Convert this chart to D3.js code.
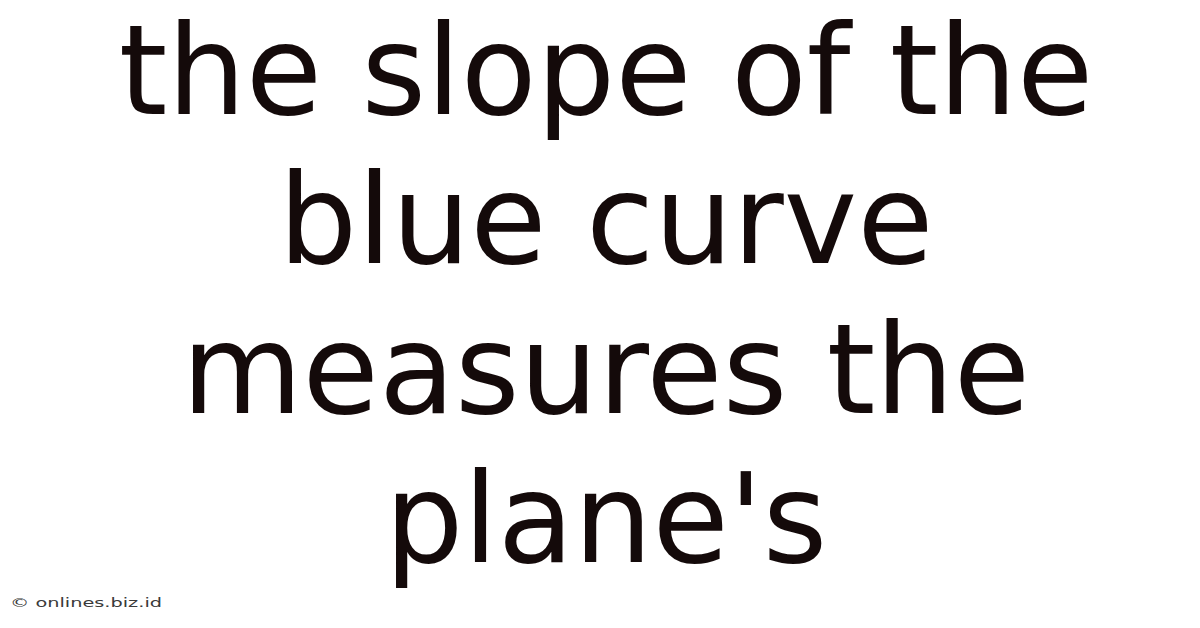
<!DOCTYPE html>
<html>
<head>
<meta charset="utf-8">
<script src="https://cdn.jsdelivr.net/npm/d3@7"></script>
<style>
html,body{margin:0;padding:0;background:#fff;}
svg{display:block;}
</style>
</head>
<body>
<svg id="c" width="1200" height="628"></svg>
<script>
const lines = ["the slope of the", "blue curve", "measures the", "plane's"];
const lineIndex = [0, 1, 2, 3];
const watermark = ["© onlines.biz.id"];

const svg = d3.select("#c");
svg.append("rect").attr("width", 1200).attr("height", 628).attr("fill", "#ffffff");

const y = d3.scaleLinear().domain([0, 3]).range([114, 562]);

svg.selectAll("text.line")
  .data(lines)
  .enter()
  .append("text")
  .attr("class", "line")
  .attr("x", 606)
  .attr("y", (d, i) => y(lineIndex[i]))
  .attr("text-anchor", "middle")
  .attr("font-family", "DejaVu Sans")
  .attr("font-size", 124)
  .attr("fill", "#140a0a")
  .text(d => d);

svg.selectAll("text.wm")
  .data(watermark)
  .enter()
  .append("text")
  .attr("class", "wm")
  .attr("x", 10)
  .attr("y", 607)
  .attr("font-family", "DejaVu Sans")
  .attr("font-size", 13)
  .attr("textLength", 152)
  .attr("lengthAdjust", "spacingAndGlyphs")
  .attr("fill", "#3a3a3a")
  .text(d => d);
</script>
</body>
</html>
